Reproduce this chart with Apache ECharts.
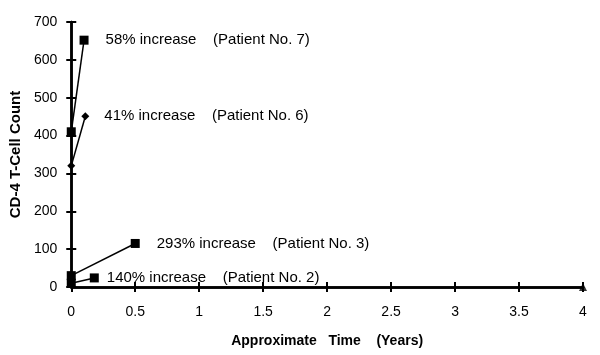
<!DOCTYPE html>
<html><head><meta charset="utf-8">
<script src="https://cdn.jsdelivr.net/npm/echarts@6/dist/echarts.min.js"></script>
<style>html,body{margin:0;padding:0;background:#fff}#c{width:600px;height:355px}</style>
</head><body><div id="c"></div>
<script>
const patients = ['Patient No. 7', 'Patient No. 6', 'Patient No. 3', 'Patient No. 2'];
const increaseText = ['58% increase', '41% increase', '293% increase', '140% increase'];
const startTime = [0, 0, 0, 0];
const startCount = [410, 320, 30, 10];
const endTime = [0.1, 0.11, 0.5, 0.18];
const endCount = [652, 451, 115, 24];
const markerShape = ['rect', 'diamond', 'rect', 'rect'];
const axisEnd = [4, 0];
const yTicks = [0, 100, 200, 300, 400, 500, 600, 700];
const xTicks = [0, 0.5, 1, 1.5, 2, 2.5, 3, 3.5, 4];

const labelGap = [17, 15, 17, 8];
const FONT = '"Liberation Sans", Arial, sans-serif';

const series = patients.map((p, i) => ({
  type: 'line',
  name: p,
  symbol: markerShape[i],
  symbolSize: markerShape[i] === 'rect' ? 9 : 8,
  itemStyle: { color: '#000' },
  lineStyle: { color: '#000', width: 1.5 },
  z: 5,
  data: [
    [startTime[i], startCount[i]],
    { value: [endTime[i], endCount[i]],
      label: { show: true, position: 'right', distance: labelGap[i],
        formatter: increaseText[i] + '    (' + p + ')',
        color: '#000', fontSize: 15, fontFamily: FONT } }
  ]
}));
series.push({
  type: 'scatter', symbol: 'triangle', symbolSize: 8,
  itemStyle: { color: '#000' }, data: [axisEnd], z: 6
});

const baseX = {
  type: 'value', min: 0, max: 4, interval: 0.5,
  axisLine: { show: true, onZero: false, lineStyle: { color: '#000', width: 2.5 } },
  splitLine: { show: false }
};
const baseY = {
  type: 'value', min: 0, max: 700, interval: 100,
  axisLine: { show: true, onZero: false, lineStyle: { color: '#000', width: 2.5 } },
  splitLine: { show: false }
};

const option = {
  animation: false,
  backgroundColor: '#fff',
  grid: { left: 69, right: 17, top: 22, bottom: 68 },
  xAxis: [
    Object.assign({}, baseX, {
      name: 'Approximate   Time    (Years)', nameLocation: 'middle', nameGap: 47,
      nameTextStyle: { fontFamily: FONT, fontWeight: 'bold', fontSize: 14, color: '#000' },
      axisTick: { show: true, inside: false, length: 5, lineStyle: { color: '#000', width: 2 } },
      axisLabel: { color: '#000', fontSize: 14, fontFamily: FONT, margin: 18,
        formatter: v => xTicks.includes(v) ? String(v) : '' }
    }),
    Object.assign({}, baseX, {
      position: 'bottom',
      axisTick: { show: true, inside: true, length: 5, lineStyle: { color: '#000', width: 2 } },
      axisLabel: { show: false }
    })
  ],
  yAxis: [
    Object.assign({}, baseY, {
      name: 'CD-4 T-Cell Count', nameLocation: 'middle', nameGap: 46,
      nameTextStyle: { fontFamily: FONT, fontWeight: 'bold', fontSize: 15, color: '#000' },
      axisTick: { show: true, inside: false, length: 5, lineStyle: { color: '#000', width: 2 } },
      axisLabel: { color: '#000', fontSize: 14, fontFamily: FONT, margin: 14,
        formatter: v => yTicks.includes(v) ? String(v) : '' }
    }),
    Object.assign({}, baseY, {
      position: 'left',
      axisTick: { show: true, inside: true, length: 5, lineStyle: { color: '#000', width: 2 } },
      axisLabel: { show: false }
    })
  ],
  series: series
};
echarts.init(document.getElementById('c'), null, { renderer: 'canvas' }).setOption(option);
</script></body></html>
